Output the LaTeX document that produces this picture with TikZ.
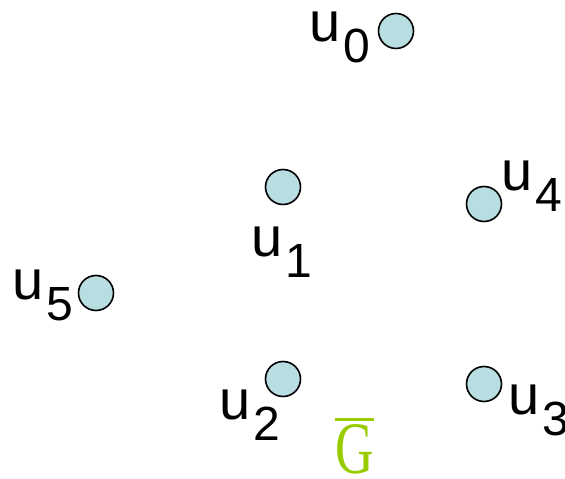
\documentclass[tikz,border=0pt]{standalone}
\usepackage{fontspec}
\setmainfont{Liberation Sans}
\newfontfamily\gfont{Liberation Serif}
\usepackage{xcolor}
\definecolor{vertfill}{RGB}{184,222,225}
\definecolor{compgreen}{RGB}{153,204,0}
\newcommand{\ulab}[1]{u\kern3pt\raisebox{-21pt}{\fontsize{48}{50}\selectfont #1}}
\tikzset{
  vert/.style={circle,draw,line width=1.6pt,fill=vertfill,minimum size=35pt,inner sep=0pt},
  vlab/.style={anchor=base west,inner sep=0pt,font=\fontsize{56}{58}\selectfont}
}

\begin{document}
\begin{tikzpicture}[x=1pt,y=1pt]
  \useasboundingbox (0,0) rectangle (565,479);
  % vertices
  \node[vert] (u0) at (396,448){};
  \node[vert] (u1) at (283,292){};
  \node[vert] (u4) at (484,275){};
  \node[vert] (u5) at (96,186){};
  \node[vert] (u2) at (283,100){};
  \node[vert] (u3) at (484,95){};
  % labels
  \node[vlab] (l0) at (309,437){\ulab{0}};
  \node[vlab] (l1) at (251,222){\ulab{1}};
  \node[vlab] (l4) at (501,288){\ulab{4}};
  \node[vlab] (l5) at (12,179){\ulab{5}};
  \node[vlab] (l2) at (219,59){\ulab{2}};
  \node[vlab] (l3) at (508,64){\ulab{3}};
  \node[anchor=base west,inner sep=0pt,text=compgreen,font=\gfont\fontsize{74}{76}\selectfont] (g) at (335,5)
    {\vbox{\hrule height 3pt\kern 4pt\hbox{\scalebox{0.72}[1]{G}}}};
\end{tikzpicture}
\end{document}
